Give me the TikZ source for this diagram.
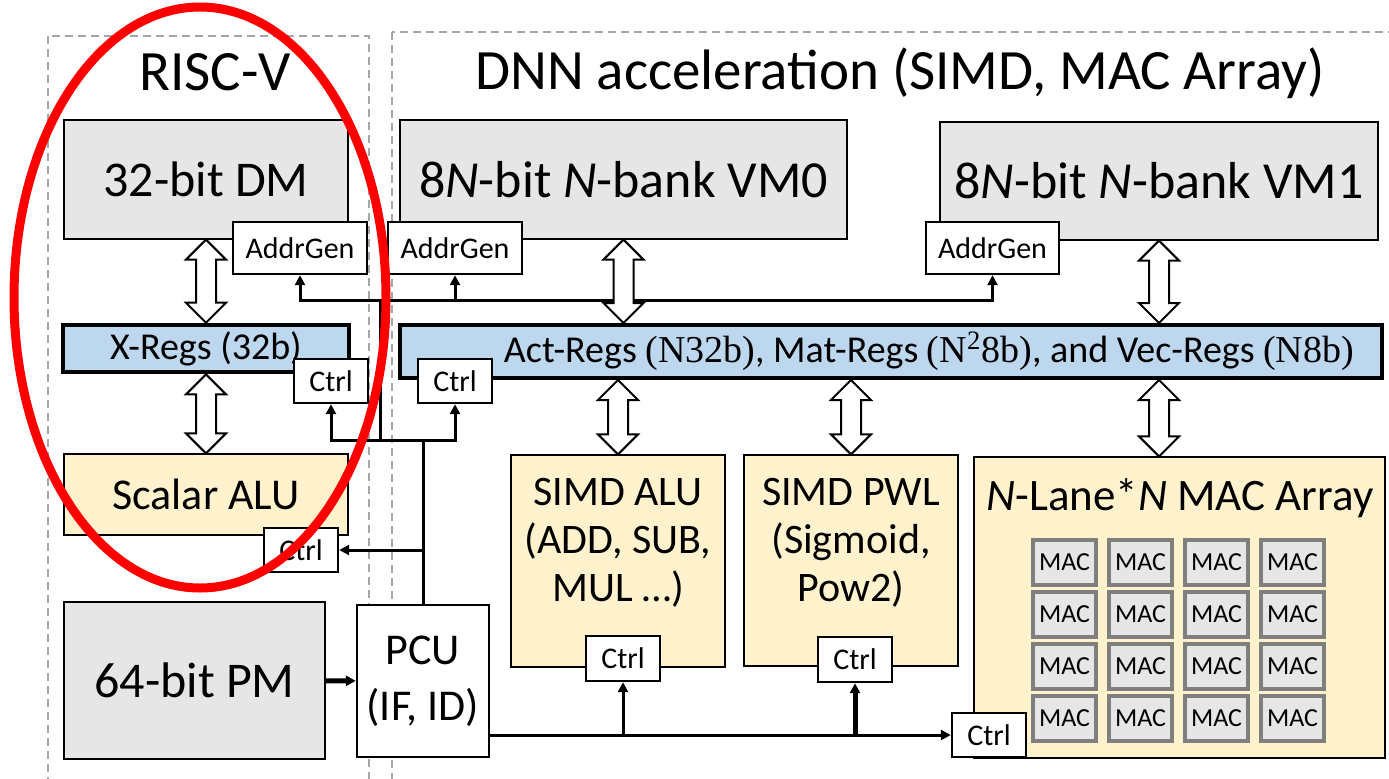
\documentclass[tikz,border=0pt]{standalone}
\usepackage{fontspec}
\setmainfont{Carlito}
\newfontfamily\regfont{Liberation Serif}
\usepackage{tikz}
\usetikzlibrary{arrows.meta,calc,positioning}
\definecolor{memgray}{HTML}{E6E6E6}
\definecolor{regblue}{HTML}{BDD7EE}
\definecolor{unityellow}{HTML}{FFF2CC}
\definecolor{macedge}{HTML}{7F7F7F}
\definecolor{dashgray}{HTML}{A6A6A6}
\newcommand{\fs}[2]{\fontsize{#1}{#2}\selectfont}
% hollow double-headed arrow from #1 (top) down to #2 (bottom)
\newcommand{\fatarrow}[2]{%
  \draw[fat] let \p1=(#1), \p2=(#2) in
    (\x1,\y1) -- (\x1+10pt,\y1-10pt) -- (\x1+5pt,\y1-10pt) -- (\x1+5pt,\y2+10pt)
    -- (\x1+10pt,\y2+10pt) -- (\x1,\y2) -- (\x1-10pt,\y2+10pt) -- (\x1-5pt,\y2+10pt)
    -- (\x1-5pt,\y1-10pt) -- (\x1-10pt,\y1-10pt) -- cycle;}

\begin{document}
\begin{tikzpicture}[x=0.5pt, y=-0.5pt,
  >={Triangle[length=5pt,width=5pt]},
  membox/.style={draw, line width=0.6pt, fill=memgray},
  regbar/.style={draw, line width=2pt, fill=regblue},
  unitbox/.style={draw, line width=0.6pt, fill=unityellow},
  tagbox/.style={draw, line width=1.2pt, fill=white, inner sep=0pt,
    minimum width=37pt, minimum height=22pt, font=\fs{15}{18}},
  macbox/.style={draw=macedge, line width=2pt, fill=memgray, inner sep=0pt,
    minimum width=31.5pt, minimum height=22.5pt, font=\fs{13}{15}},
  region/.style={draw=dashgray, line width=1pt, dash pattern=on 4pt off 2.5pt},
  ctl/.style={line width=1.5pt},
  fat/.style={draw, line width=1pt, fill=white, line join=miter}]
  \clip (0,0) rectangle (1389,778);
  % the two dashed regions
  \draw[region] (48,36) rectangle (369,800);
  \draw[region] (392,32) rectangle (1400,800);
  \node[font=\fs{28.5}{32}] (risctitle) at (215,72) {RISC-V};
  \node[font=\fs{28.5}{32}] (dnntitle) at (900,73) {DNN acceleration (SIMD, MAC Array)};
  % RISC-V side
  \node[membox, minimum width=142pt, minimum height=59.5pt, font=\fs{25}{30}] (dm) at (206,179.5) {32-bit DM};
  \node[regbar, minimum width=143pt, minimum height=21.5pt, font=\fs{19}{22}] (xregs) at (206,348.5) {X-Regs (32b)\hspace{10pt}};
  \node[unitbox, minimum width=142pt, minimum height=40.5pt, font=\fs{22}{25}] (alu) at (206,494.5) {Scalar ALU};
  \node[membox, minimum width=130.5pt, minimum height=78.5pt, font=\fs{25}{30}] (pm) at (194.5,680.5) {64-bit PM};
  \node[draw, line width=1.2pt, fill=white, minimum width=66pt, minimum height=76pt,
    align=center, font=\fs{22}{28}] (pcu) at (423,681) {PCU\\(IF, ID)};
  % DNN side
  \node[membox, minimum width=223.5pt, minimum height=59.5pt, font=\fs{26}{30}] (vm0) at (623.5,179.5) {8\textit{N}-bit \textit{N}-bank VM0};
  \node[membox, minimum width=219pt, minimum height=59pt, font=\fs{26}{30}] (vm1) at (1159,181) {8\textit{N}-bit \textit{N}-bank VM1};
  \node[regbar, minimum width=491pt, minimum height=26.5pt, font=\fs{19}{22}] (act) at (891,351.5)
    {\hspace{38pt}Act-Regs {\regfont(N32b)}, Mat-Regs {\regfont(N\textsuperscript{2}8b)}, and Vec-Regs {\regfont(N8b)}};
  \node[unitbox, minimum width=107pt, minimum height=106pt] (simdalu) at (618,561) {};
  \node[align=center, font=\fs{21}{24}] (simdalutext) at (618,543) {SIMD ALU\\(ADD, SUB,\\MUL \ldots)};
  \node[unitbox, minimum width=107pt, minimum height=105.5pt] (pwl) at (851,560.5) {};
  \node[align=center, font=\fs{21}{24}] (pwltext) at (851,543) {SIMD PWL\\(Sigmoid,\\Pow2)};
  \node[unitbox, minimum width=205.5pt, minimum height=150.5pt] (mac) at (1179.5,607.5) {};
  \node[font=\fs{22.5}{26}] (mactitle) at (1180,498) {\textit{N}-Lane*\textit{N} MAC Array};
  \foreach \i in {0,...,3}
    \foreach \j in {0,...,3}
      \node[macbox] (mac-\i-\j) at (1064.5+76*\i, 562+52*\j) {MAC};
  % small control / address boxes
  \node[tagbox, minimum width=67pt, minimum height=26pt] (agdm) at (300,248) {AddrGen};
  \node[tagbox, minimum width=67pt, minimum height=26pt] (agvm0) at (455,248) {AddrGen};
  \node[tagbox, minimum width=66.5pt, minimum height=26pt] (agvm1) at (992.5,248) {AddrGen};
  \node[tagbox] (xctrl) at (331,381) {Ctrl};
  \node[tagbox] (actctrl) at (455,381) {Ctrl};
  \node[tagbox] (aluctrl) at (301,550) {Ctrl};
  \node[tagbox, minimum height=22.5pt] (saluctrl) at (623,658.5) {Ctrl};
  \node[tagbox, minimum height=22.5pt] (pwlctrl) at (855,659.5) {Ctrl};
  \node[tagbox] (macctrl) at (989,735) {Ctrl};
  % control wires from PCU
  \coordinate (cbus) at (423,440);
  \coordinate (tap) at (380,440);
  \coordinate (abus) at (380,300);
  \coordinate (dbus) at (pcu.east |- macctrl.west);
  \draw[line width=2.5pt, ->] (pm) -- (pcu);
  \draw[ctl] (pcu.north) -- (cbus);
  \draw[ctl, ->] (cbus) -| (xctrl.south);
  \draw[ctl, ->] (cbus) -| (actctrl.south);
  \draw[ctl, ->] (pcu.north |- aluctrl) -- (aluctrl.east);
  \draw[ctl] (tap) -- (abus);
  \draw[ctl, ->] (abus) -| (agdm.south);
  \draw[ctl, ->] (abus) -| (agvm0.south);
  \draw[ctl, ->] (abus) -| (agvm1.south);
  \draw[ctl, ->] (dbus) -- (macctrl.west);
  \draw[ctl, ->] (dbus -| saluctrl) -- (saluctrl.south);
  \draw[line width=2.5pt, ->] (dbus -| pwlctrl) -- (pwlctrl.south);
  % data paths
  \fatarrow{dm.south}{xregs.north}
  \fatarrow{xregs.south}{alu.north}
  \fatarrow{vm0.south}{act.north -| vm0.south}
  \fatarrow{vm1.south}{act.north -| vm1.south}
  \fatarrow{act.south -| simdalu.north}{simdalu.north}
  \fatarrow{act.south -| pwl.north}{pwl.north}
  \fatarrow{act.south -| vm1.south}{mac.north -| vm1.south}
  % highlight
  \draw[red, line width=4.5pt] (200,297.5) ellipse [x radius=93pt, y radius=145.25pt];
\end{tikzpicture}
\end{document}
